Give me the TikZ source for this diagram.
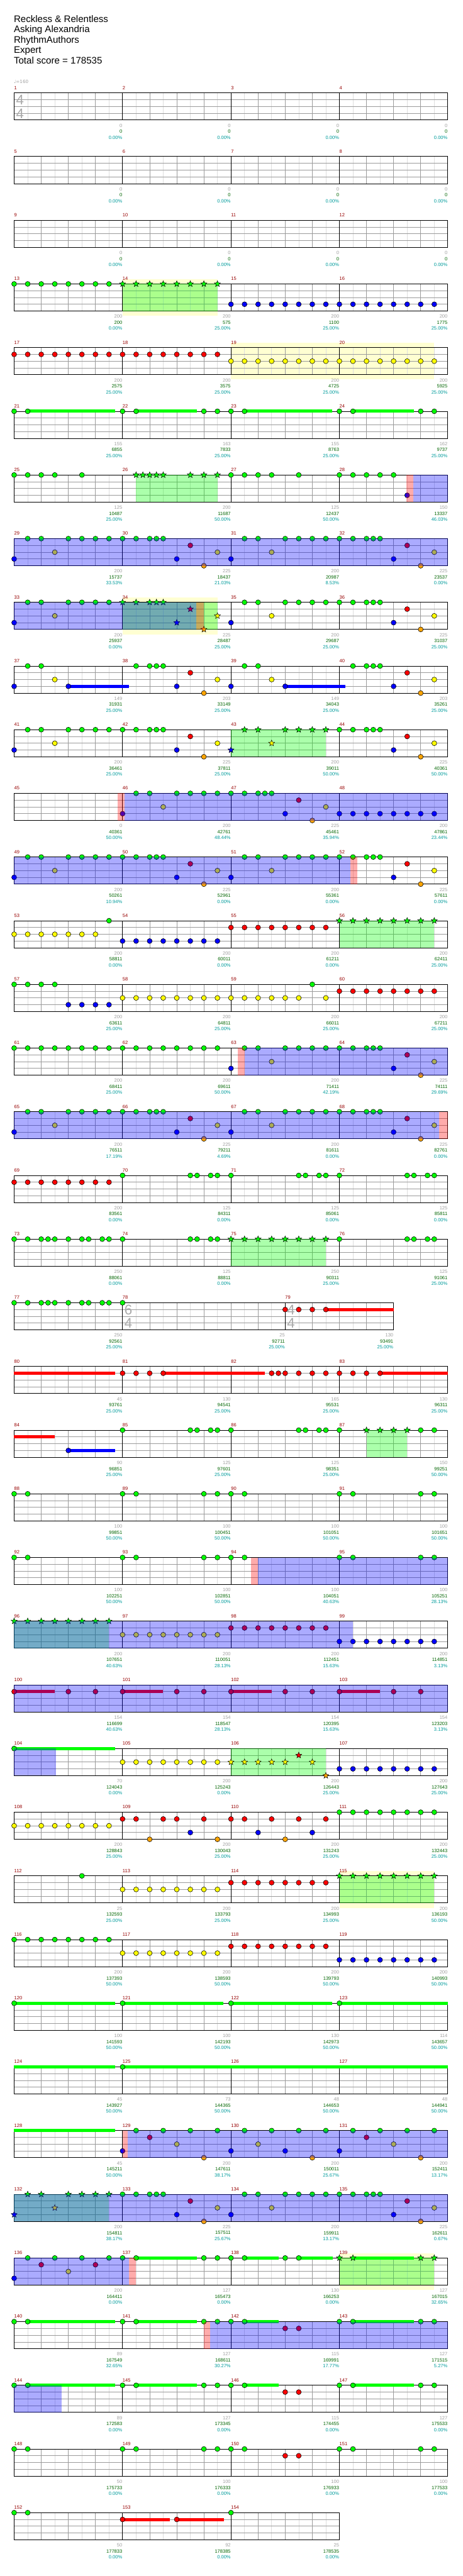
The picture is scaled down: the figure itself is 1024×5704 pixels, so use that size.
\documentclass[tikz,border=0pt]{standalone}
\usepackage{fontspec}
\setmainfont{Liberation Sans}
\newfontfamily\notefont{DejaVu Sans}
\usetikzlibrary{shapes.geometric}

\definecolor{lane0}{RGB}{0,255,0}
\definecolor{lane1}{RGB}{255,0,0}
\definecolor{lane2}{RGB}{255,255,0}
\definecolor{lane3}{RGB}{0,0,255}
\definecolor{lane4}{RGB}{255,165,0}
\definecolor{barred}{RGB}{150,0,0}
\definecolor{basegray}{RGB}{160,160,160}
\definecolor{scoregreen}{RGB}{0,100,0}
\definecolor{pctteal}{RGB}{0,155,155}
\definecolor{halfgray}{RGB}{222,222,222}
\definecolor{beatgray}{RGB}{155,155,155}
\definecolor{bandyellow}{RGB}{255,255,210}
\definecolor{siggray}{RGB}{170,170,170}

% top of the staff in row #1
\newcommand\rowtop[1]{\pgfmathsetmacro\ry{205.7+141*(#1-1)}}
% staff: row, beats, first bar number, bar lines (in beats)
\newcommand\staffrow[4]{%
  \rowtop{#1}%
  \pgfmathsetmacro\xe{31.3+60*#2}%
  \pgfmathtruncatemacro\nh{2*#2-1}%
  \pgfmathtruncatemacro\nb{#2-1}%
  \foreach \hh in {1,...,\nh} \draw[halfline] (31.3+30*\hh,\ry) -- ++(0,60);
  \foreach \bb in {1,...,\nb} \draw[beatline] (31.3+60*\bb,\ry) -- ++(0,60);
  \foreach \ll in {1,2,3} \draw[beatline] (31.3,\ry+15*\ll) -- (\xe,\ry+15*\ll);
  \foreach \bb [count=\i from 0] in {#4} {
    \pgfmathtruncatemacro\mm{#3+\i}
    \draw[barline] (31.3+60*\bb,\ry) -- ++(0,60);
    \node[barnum] (bar\mm) at (31.3+60*\bb,\ry-11.5) {\mm};
  }
  \draw[staffframe] (31.3,\ry) rectangle (\xe,\ry+60);
}
% notes: row, list of sixteenth/lane
\newcommand\notes[2]{\rowtop{#1}\foreach \sx/\lane in {#2}
  \filldraw[notedisc,fill=lane\lane] (31.3+15*\sx,\ry+15*\lane) circle (5.5);}
% a run of eighth notes: row, lane, from, to
\newcommand\eighths[4]{\rowtop{#1}\pgfmathtruncatemacro\nx{#3+2}\foreach \sx in {#3,\nx,...,#4}
  \filldraw[notedisc,fill=lane#2] (31.3+15*\sx,\ry+15*#2) circle (5.5);}
\newcommand\stars[2]{\rowtop{#1}\foreach \sx/\lane in {#2}
  \node[starnote,fill=lane\lane] at (31.3+15*\sx,\ry+15*\lane) {};}
\newcommand\starrun[4]{\rowtop{#1}\pgfmathtruncatemacro\nx{#3+2}\foreach \sx in {#3,\nx,...,#4}
  \node[starnote,fill=lane#2] at (31.3+15*\sx,\ry+15*#2) {};}
% the two bars of the main riff: row, first sixteenth
\newcommand\riffA[2]{\begin{scope}[xshift=#2*15pt]\notes{#1}{0/3,2/0,4/0,6/2,8/0,10/0,12/0,14/0}\end{scope}}
\newcommand\riffB[2]{\begin{scope}[xshift=#2*15pt]\notes{#1}{0/0,2/0,4/0,5/0,6/0,8/3,10/1,12/4,14/2}\end{scope}}
\newcommand\riffAstar[2]{\begin{scope}[xshift=#2*15pt]\stars{#1}{0/3,2/0,4/0,6/2,8/0,10/0,12/0,14/0}\end{scope}}
% sustains: row, list of start/lane/end
\newcommand\sust[2]{\rowtop{#1}\foreach \sx/\lane/\se in {#2}
  \fill[lane\lane] (31.3+15*\sx,\ry+15*\lane-3.5) rectangle (31.3+15*\se,\ry+15*\lane+3.5);}
% shaded zones: row, from, to
\newcommand\spband[3]{\rowtop{#1}\fill[bandyellow] (31.3+15*#2,\ry-10.7) rectangle (31.3+15*#3,\ry+70.7);}
\newcommand\spzone[3]{\rowtop{#1}\fill[lane0,opacity=0.33] (31.3+15*#2,\ry) rectangle (31.3+15*#3,\ry+60);}
\newcommand\actzone[3]{\rowtop{#1}\fill[lane3,opacity=0.33] (31.3+15*#2,\ry) rectangle (31.3+15*#3,\ry+60);}
\newcommand\redzone[3]{\rowtop{#1}\fill[lane1,opacity=0.33] (31.3+15*#2,\ry) rectangle (31.3+15*#3,\ry+60);}
% time signature: row, beat, upper, lower
\newcommand\timesig[4]{\rowtop{#1}%
  \node[sigtxt] (sigA#1-#2) at (44.3+60*#2,\ry+15.5) {#3};
  \node[sigtxt] (sigB#1-#2) at (44.3+60*#2,\ry+45.5) {#4};}
% scores under the bars: row, list of endbeat/base/total/percent
\newcommand\scores[2]{\rowtop{#1}\foreach \bt/\g/\tot/\pc in {#2}{
  \node[basetxt] (base#1-\bt) at (31.3+60*\bt,\ry+72) {\g};
  \node[scoretxt] (score#1-\bt) at (31.3+60*\bt,\ry+85.5) {\tot};
  \node[pcttxt] (pct#1-\bt) at (31.3+60*\bt,\ry+98.5) {\pc\%};}}

\begin{document}
\begin{tikzpicture}[x=1pt,y=-1pt,
  halfline/.style={halfgray,line width=1pt},
  beatline/.style={beatgray,line width=1pt},
  barline/.style={black,line width=1pt},
  staffframe/.style={black,line width=1.3pt},
  barnum/.style={barred,anchor=west,inner sep=0pt,font=\fontsize{10.5}{12}\selectfont},
  basetxt/.style={basegray,anchor=east,inner sep=0.5pt,font=\fontsize{10.5}{12}\selectfont},
  scoretxt/.style={scoregreen,anchor=east,inner sep=0.5pt,font=\fontsize{10.5}{12}\selectfont},
  pcttxt/.style={pctteal,anchor=east,inner sep=0.5pt,font=\fontsize{10.5}{12}\selectfont},
  sigtxt/.style={siggray,inner sep=0pt,font=\fontsize{31}{31}\selectfont},
  titletxt/.style={anchor=base west,inner sep=0pt,font=\fontsize{21}{25}\selectfont},
  notedisc/.style={draw=black,line width=0.8pt},
  starnote/.style={star,star points=5,star point ratio=2.3,draw=black,line width=0.7pt,
                   minimum size=14pt,inner sep=0pt}
]
\useasboundingbox (0,0) rectangle (1024,5704);

% ===== HEADER =====
\node[titletxt] (song) at (30.5,49.3) {Reckless \& Relentless};
\node[titletxt] (band) at (30.5,72.3) {Asking Alexandria};
\node[titletxt] (chart) at (30.5,95.3) {RhythmAuthors};
\node[titletxt] (level) at (30.5,118.3) {Expert};
\node[titletxt] (total) at (30.5,141.3) {Total score = 178535};
\node[basegray,anchor=west,inner sep=0pt,font=\notefont\fontsize{10}{12}\selectfont] (tempo) at (30.5,181) {♩=160};

% ===== YELLOW BANDS (behind the staves) =====
\spband{4}{16}{30}
\spband{5}{32}{62}
\spband{9}{16}{30}
\spband{29}{48}{62}
\spband{35}{48}{62}

% ===== STAVES =====
\foreach \r in {1,...,19} {\staffrow{\r}{16}{4*\r-3}{0,4,8,12}}
\staffrow{20}{14}{77}{0,4,10}
\foreach \r in {21,...,38} {\staffrow{\r}{16}{80+4*(\r-21)}{0,4,8,12}}
\staffrow{39}{12}{152}{0,4,8}

\timesig{1}{0}{4}{4}
\timesig{20}{4}{6}{4}
\timesig{20}{10}{4}{4}

% ===== STAR POWER PHRASES =====
\spzone{4}{16}{30}
\spzone{7}{18}{30}
\spzone{9}{16}{30}
\spzone{11}{32}{46}
\spzone{14}{48}{62}
\spzone{19}{32}{46}
\spzone{22}{52}{58}
\spzone{25}{0}{14}
\spzone{27}{32}{46}
\spzone{29}{48}{62}
\spzone{34}{0}{14}
\spzone{35}{48}{62}

% ===== SUSTAINS =====
\sust{6}{2/0/14.9,18/0/27,34/0/46.9,50/0/59}
\sust{10}{8/3/16.9,40/3/48.9}
\sust{20}{46/1/56}
\sust{21}{0/1/14.9,22/1/37,54/1/64}
\sust{22}{0/1/6,8/3/14.9}
\sust{26}{0/1/6,16/1/22,32/1/38,48/1/54}
\sust{27}{0/0/14.9}
\sust{31}{0/0/14.9,16/0/30.9,32/0/46.9,48/0/64}
\sust{32}{0/0/14.9,16/0/64}
\sust{33}{0/0/14.9}
\sust{35}{18/0/27,34/0/39,42/0/47,50/0/59}
\sust{36}{2/0/14.9,18/0/27,34/0/39,50/0/59}
\sust{37}{2/0/14.9,18/0/27,34/0/39,50/0/59}
\sust{39}{16/1/23,24/1/31}

% ===== NOTES =====
\eighths{4}{0}{0}{14}
\starrun{4}{0}{16}{30}
\eighths{4}{3}{32}{62}

\eighths{5}{1}{0}{30}
\eighths{5}{2}{32}{62}

\notes{6}{0/0,2/0,16/0,18/0,28/0,30/0,32/0,34/0,48/0,50/0,60/0,62/0}

\notes{7}{0/0,2/0,4/0,6/0,10/0,32/0,34/0,36/0,38/0,42/0,48/0,50/0,52/0,54/0,56/0,58/3}
\stars{7}{18/0,19/0,20/0,21/0,22/0,26/0,28/0,30/0}

\riffA{8}{0}\riffB{8}{16}\riffA{8}{32}\riffB{8}{48}

\notes{9}{0/3,2/0,4/0,6/2,8/0,10/0,12/0,14/0,32/3,34/0,36/0,38/2,40/0,42/0,44/0,46/0,
  48/0,50/0,52/0,53/0,54/0,56/3,58/1,60/4,62/2}
\stars{9}{16/0,18/0,20/0,21/0,22/0,24/3,26/1,28/4,30/2}

\notes{10}{0/3,2/0,4/0,6/2,8/3,18/0,20/0,21/0,22/0,24/3,26/1,28/4,30/2,32/3,34/0,36/0,
  38/2,40/3,50/0,52/0,53/0,54/0,56/3,58/1,60/4,62/2}

\riffA{11}{0}\riffB{11}{16}\riffAstar{11}{32}\riffB{11}{48}

\riffA{12}{16}\riffB{12}{32}
\eighths{12}{3}{48}{62}

\riffA{13}{0}\riffB{13}{16}\riffA{13}{32}\riffB{13}{48}

\eighths{14}{2}{0}{12}
\notes{14}{14/0}
\eighths{14}{3}{16}{30}
\eighths{14}{1}{32}{46}
\starrun{14}{0}{48}{62}

\eighths{15}{0}{0}{6}
\eighths{15}{3}{8}{14}
\eighths{15}{2}{16}{42}
\notes{15}{44/0,46/2}
\eighths{15}{1}{48}{62}

\eighths{16}{0}{0}{30}
\riffA{16}{32}\riffB{16}{48}

\riffA{17}{0}\riffB{17}{16}\riffA{17}{32}\riffB{17}{48}

\eighths{18}{1}{0}{14}
\notes{18}{16/0,26/0,27/0,29/0,30/0,32/0,42/0,43/0,45/0,46/0,48/0,58/0,59/0,61/0,62/0}

\notes{19}{0/0,2/0,4/0,5/0,6/0,8/0,10/0,11/0,13/0,14/0,16/0,26/0,27/0,29/0,30/0,
  48/0,58/0,59/0,61/0,62/0}
\starrun{19}{0}{32}{46}

\notes{20}{0/0,2/0,4/0,5/0,6/0,8/0,10/0,11/0,13/0,14/0,16/0,40/1,42/1,44/1,46/1}

\notes{21}{16/1,18/1,20/1,22/1,38/1,39/1,40/1,42/1,44/1,46/1,48/1,50/1,52/1,54/1}

\notes{22}{8/3,16/0,26/0,27/0,29/0,30/0,32/0,42/0,43/0,45/0,46/0,48/0,60/0,62/0}
\stars{22}{52/0,54/0,56/0,58/0}

\notes{23}{0/0,2/0,16/0,18/0,28/0,30/0,32/0,34/0,48/0,50/0,60/0,62/0}

\notes{24}{0/0,2/0,16/0,18/0,28/0,30/0,32/0,34/0,48/0,50/0,60/0,62/0}

\starrun{25}{0}{0}{14}
\eighths{25}{2}{16}{30}
\eighths{25}{1}{32}{46}
\eighths{25}{3}{48}{62}

\notes{26}{0/1,8/1,12/1,16/1,24/1,28/1,32/1,40/1,44/1,48/1,56/1,60/1}

\notes{27}{0/0}
\eighths{27}{2}{16}{30}
\stars{27}{32/2,34/2,36/2,38/2,40/2,42/1,44/2,46/4}
\eighths{27}{3}{48}{62}

\eighths{28}{2}{0}{14}
\notes{28}{16/1,18/1,20/4,22/1,24/1,26/3,28/1,30/4,32/1,34/1,36/3,38/1,40/4,42/1,44/3,46/1}
\eighths{28}{0}{48}{62}

\notes{29}{10/0}
\eighths{29}{2}{16}{30}
\eighths{29}{1}{32}{46}
\starrun{29}{0}{48}{62}

\eighths{30}{0}{0}{14}
\eighths{30}{2}{16}{30}
\eighths{30}{1}{32}{46}
\eighths{30}{3}{48}{62}

\notes{31}{0/0,16/0,32/0,48/0}

\notes{32}{16/0}

\notes{33}{16/3,18/0,20/1,22/0,24/2,26/0,28/4,30/0,32/3,34/0,36/2,38/0,40/3,42/0,44/4,46/0,
  48/3,50/0,52/1,54/0,56/2,58/0,60/4,62/0}

\riffAstar{34}{0}\riffB{34}{16}\riffA{34}{32}\riffB{34}{48}

\notes{35}{0/3,2/0,4/1,6/0,8/2,10/0,12/1,14/0,16/0,18/0,28/0,30/0,32/0,34/0,40/0,42/0}
\stars{35}{48/0,50/0,60/0,62/0}

\notes{36}{0/0,2/0,16/0,18/0,28/0,30/0,32/0,34/0,40/1,42/1,48/0,50/0,60/0,62/0}

\notes{37}{0/0,2/0,16/0,18/0,28/0,30/0,32/0,34/0,40/1,42/1,48/0,50/0,60/0,62/0}

\notes{38}{0/0,2/0,16/0,18/0,28/0,30/0,32/0,34/0,40/1,42/1,48/0,50/0,60/0,62/0}

\notes{39}{0/0,2/0,16/1,24/1,32/0}

% ===== ACTIVATIONS =====
\redzone{7}{57.9}{58.9}
\actzone{7}{58.9}{64}
\actzone{8}{0}{64}
\actzone{9}{0}{26.9}
\redzone{9}{26.9}{28}
\redzone{12}{15.3}{16.3}
\actzone{12}{16.3}{64}
\actzone{13}{0}{49.6}
\redzone{13}{49.6}{50.6}
\redzone{16}{33}{34}
\actzone{16}{34}{64}
\actzone{17}{0}{62.7}
\redzone{17}{62.7}{64}
\redzone{24}{35}{36}
\actzone{24}{36}{64}
\actzone{25}{0}{50}
\actzone{26}{0}{64}
\actzone{27}{0}{6.2}
\redzone{33}{16}{16.8}
\actzone{33}{16.8}{64}
\actzone{34}{0}{64}
\actzone{35}{0}{16.9}
\redzone{35}{16.9}{18}
\redzone{36}{28}{28.9}
\actzone{36}{28.9}{64}
\actzone{37}{0}{7}

% ===== SCORES =====
\foreach \r in {1,2,3} {\scores{\r}{4/0/0/0.00,8/0/0/0.00,12/0/0/0.00,16/0/0/0.00}}
\scores{4}{4/200/200/0.00,8/200/575/25.00,12/200/1100/25.00,16/200/1775/25.00}
\scores{5}{4/200/2575/25.00,8/200/3575/25.00,12/200/4725/25.00,16/200/5925/25.00}
\scores{6}{4/155/6855/25.00,8/163/7833/25.00,12/155/8763/25.00,16/162/9737/25.00}
\scores{7}{4/125/10487/25.00,8/200/11687/50.00,12/125/12437/50.00,16/150/13337/46.03}
\scores{8}{4/200/15737/33.53,8/225/18437/21.03,12/200/20987/8.53,16/225/23537/0.00}
\scores{9}{4/200/25937/0.00,8/225/28487/25.00,12/200/29687/25.00,16/225/31037/25.00}
\scores{10}{4/149/31931/25.00,8/203/33149/25.00,12/149/34043/25.00,16/203/35261/25.00}
\scores{11}{4/200/36461/25.00,8/225/37811/25.00,12/200/39011/50.00,16/225/40361/50.00}
\scores{12}{4/0/40361/50.00,8/200/42761/48.44,12/225/45461/35.94,16/200/47861/23.44}
\scores{13}{4/200/50261/10.94,8/225/52961/0.00,12/200/55361/0.00,16/225/57611/0.00}
\scores{14}{4/200/58811/0.00,8/200/60011/0.00,12/200/61211/0.00,16/200/62411/25.00}
\scores{15}{4/200/63611/25.00,8/200/64811/25.00,12/200/66011/25.00,16/200/67211/25.00}
\scores{16}{4/200/68411/25.00,8/200/69611/50.00,12/200/71411/42.19,16/225/74111/29.69}
\scores{17}{4/200/76511/17.19,8/225/79211/4.69,12/200/81611/0.00,16/225/82761/0.00}
\scores{18}{4/200/83561/0.00,8/125/84311/0.00,12/125/85061/0.00,16/125/85811/0.00}
\scores{19}{4/250/88061/0.00,8/125/88811/0.00,12/250/90311/25.00,16/125/91061/25.00}
\scores{20}{4/250/92561/25.00,10/25/92711/25.00,14/130/93491/25.00}
\scores{21}{4/45/93761/25.00,8/130/94541/25.00,12/165/95531/25.00,16/130/96311/25.00}
\scores{22}{4/90/96851/25.00,8/125/97601/25.00,12/125/98351/25.00,16/150/99251/50.00}
\scores{23}{4/100/99851/50.00,8/100/100451/50.00,12/100/101051/50.00,16/100/101651/50.00}
\scores{24}{4/100/102251/50.00,8/100/102851/50.00,12/100/104051/40.63,16/100/105251/28.13}
\scores{25}{4/200/107651/40.63,8/200/110051/28.13,12/200/112451/15.63,16/200/114851/3.13}
\scores{26}{4/154/116699/40.63,8/154/118547/28.13,12/154/120395/15.63,16/154/123203/3.13}
\scores{27}{4/70/124043/0.00,8/200/125243/0.00,12/200/126443/25.00,16/200/127643/25.00}
\scores{28}{4/200/128843/25.00,8/200/130043/25.00,12/200/131243/25.00,16/200/132443/25.00}
\scores{29}{4/25/132593/25.00,8/200/133793/25.00,12/200/134993/25.00,16/200/136193/50.00}
\scores{30}{4/200/137393/50.00,8/200/138593/50.00,12/200/139793/50.00,16/200/140993/50.00}
\scores{31}{4/100/141593/50.00,8/100/142193/50.00,12/130/142973/50.00,16/114/143657/50.00}
\scores{32}{4/45/143927/50.00,8/73/144365/50.00,12/48/144653/50.00,16/48/144941/50.00}
\scores{33}{4/45/145211/50.00,8/200/147611/38.17,12/200/150011/25.67,16/200/152411/13.17}
\scores{34}{4/200/154811/38.17,8/225/157511/25.67,12/200/159911/13.17,16/225/162611/0.67}
\scores{35}{4/200/164411/0.00,8/127/165473/0.00,12/130/166253/0.00,16/127/167015/32.65}
\scores{36}{4/89/167549/32.65,8/127/168611/30.27,12/115/169991/17.77,16/127/171515/5.27}
\scores{37}{4/89/172583/0.00,8/127/173345/0.00,12/115/174455/0.00,16/127/175533/0.00}
\scores{38}{4/50/175733/0.00,8/100/176333/0.00,12/100/176933/0.00,16/100/177533/0.00}
\scores{39}{4/50/177833/0.00,8/92/178385/0.00,12/25/178535/0.00}

\end{tikzpicture}
\end{document}
